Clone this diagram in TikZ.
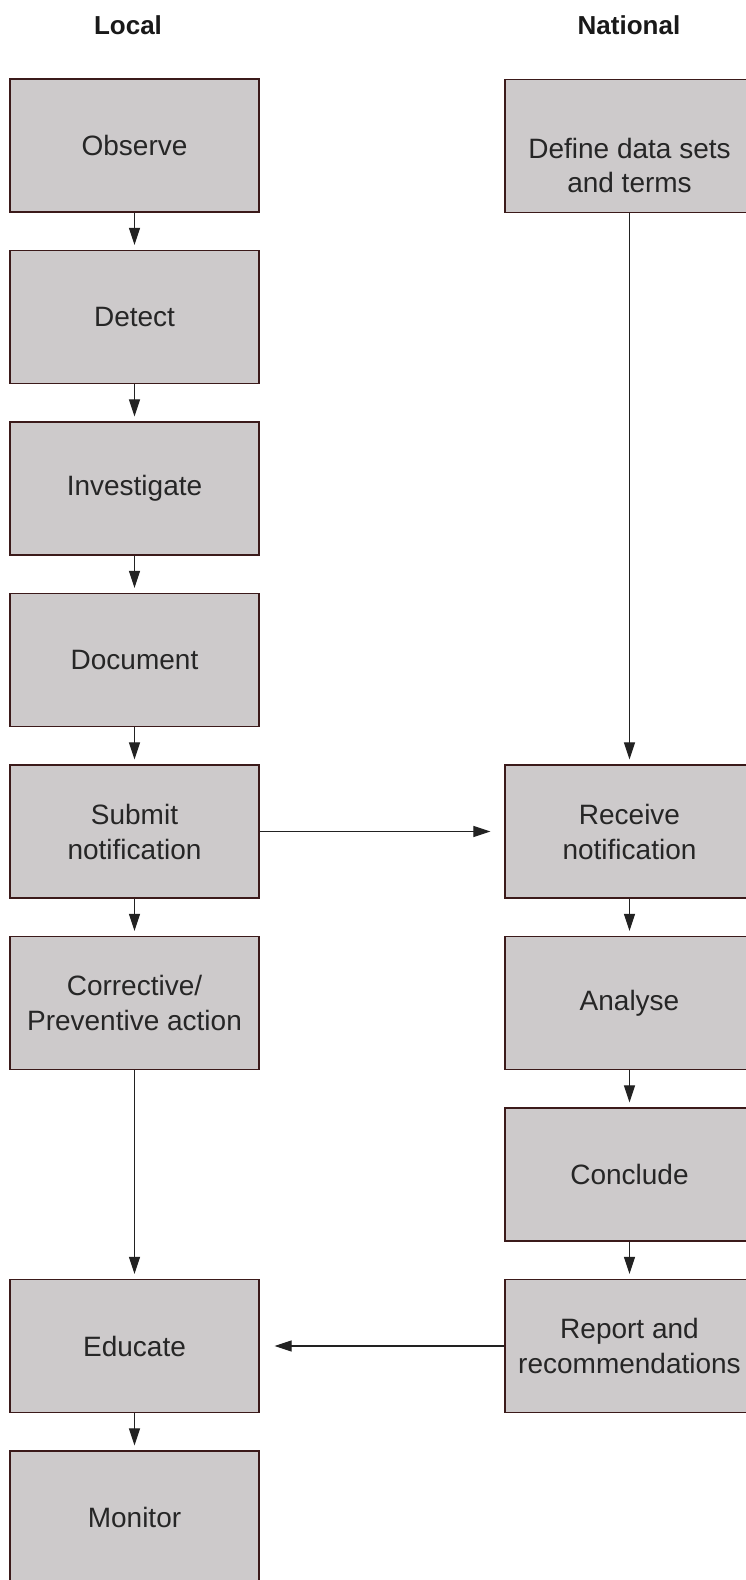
\documentclass[tikz,border=0pt]{standalone}
\usepackage{fontspec}
\setmainfont{Liberation Sans}
\usetikzlibrary{arrows.meta}
\definecolor{boxfill}{HTML}{CDCACB}
\definecolor{boxline}{HTML}{3B1A1A}
\definecolor{arrline}{HTML}{222222}
\begin{document}
\begin{tikzpicture}[x=1pt,y=-1pt,
  stepbox/.style={draw=boxline, fill=boxfill, line width=1.2pt, minimum width=249pt, minimum height=133pt,
    inner sep=0pt, align=center, font=\fontsize{28}{35}\selectfont, text=black!85},
  header/.style={font=\bfseries\fontsize{26}{30}\selectfont, text=black!90},
  arr/.style={draw=arrline, line width=1.1pt, -{Triangle[length=17pt,width=11pt]}}]
\useasboundingbox (0,0) rectangle (745,1580);
\fill[white] (0,0) rectangle (745,1580);
\node[header] (hl) at (128,25) {Local};
\node[header] (hn) at (629,25) {National};
% left column
\node[stepbox] (obs) at (134.5,145.5) {Observe};
\node[stepbox] (det) at (134.5,317) {Detect};
\node[stepbox] (inv) at (134.5,488.5) {Investigate};
\node[stepbox] (doc) at (134.5,660) {Document};
\node[stepbox] (sub) at (134.5,831.5) {Submit\\notification};
\node[stepbox] (cor) at (134.5,1003) {Corrective/\\Preventive action};
\node[stepbox] (edu) at (134.5,1346) {Educate};
\node[stepbox] (mon) at (134.5,1517.5) {Monitor};
% right column
\node[stepbox, text depth=0pt] (def) at (629.5,146) {\raisebox{-16pt}{\begin{tabular}{@{}c@{}}Define data sets\\[-1pt]and terms\end{tabular}}};
\node[stepbox] (rec) at (629.5,831.5) {Receive\\notification};
\node[stepbox] (ana) at (629.5,1003) {Analyse};
\node[stepbox] (con) at (629.5,1174.5) {Conclude};
\node[stepbox] (rep) at (629.5,1346) {Report and\\recommendations};
% connectors
\draw[arr] (obs.south) -- ([yshift=5pt]det.north);
\draw[arr] (det.south) -- ([yshift=5pt]inv.north);
\draw[arr] (inv.south) -- ([yshift=5pt]doc.north);
\draw[arr] (doc.south) -- ([yshift=5pt]sub.north);
\draw[arr] (sub.south) -- ([yshift=5pt]cor.north);
\draw[arr] (cor.south) -- ([yshift=5pt]edu.north);
\draw[arr] (edu.south) -- ([yshift=5pt]mon.north);
\draw[arr] (def.south) -- ([yshift=5pt]rec.north);
\draw[arr] (rec.south) -- ([yshift=5pt]ana.north);
\draw[arr] (ana.south) -- ([yshift=5pt]con.north);
\draw[arr] (con.south) -- ([yshift=5pt]rep.north);
\draw[arr] (sub.east) -- ([xshift=-14pt]rec.west);
\draw[arr] (rep.west) -- ([xshift=15pt]edu.east);
\end{tikzpicture}
\end{document}
